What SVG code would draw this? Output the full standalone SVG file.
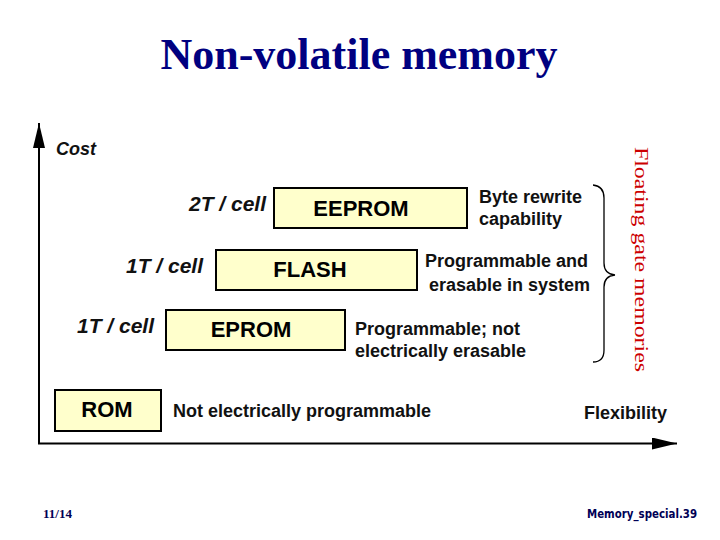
<svg xmlns="http://www.w3.org/2000/svg" width="720" height="540" viewBox="0 0 720 540">
<style>
.title{font-family:"Liberation Serif","Times New Roman",serif;font-weight:bold;font-size:44px;fill:#000080}
.box{fill:#FFFFCC;stroke:#000;stroke-width:2}
.lbl{font-family:"Liberation Sans",Arial,sans-serif;font-weight:bold;font-size:22px;fill:#000;text-anchor:middle}
.desc{font-family:"Liberation Sans",Arial,sans-serif;font-weight:bold;font-size:18px;fill:#111}
.cell{font-family:"Liberation Sans",Arial,sans-serif;font-weight:bold;font-style:italic;font-size:21px;fill:#111;text-anchor:end}
.axis{stroke:#000;stroke-width:2;fill:none}
.foot{font-weight:bold;fill:#000055}
</style>
<defs>
<marker id="arr" viewBox="0 0 25 12" refX="25" refY="6" markerWidth="25" markerHeight="12" markerUnits="userSpaceOnUse" orient="auto">
<path d="M0,0 L25,6 L0,12 Z" fill="#000"/>
</marker>
</defs>
<rect width="720" height="540" fill="#fff"/>
<text class="title" x="359" y="69" text-anchor="middle">Non-volatile memory</text>

<g id="connectors">
<line class="axis" x1="39" y1="444" x2="39" y2="123" marker-end="url(#arr)"/>
<line class="axis" x1="38" y1="443.5" x2="677" y2="443.5" marker-end="url(#arr)"/>
<path id="brace" d="M593,185 Q604,186 604,198 L604,263 Q604,274 615,275 Q604,276 604,287 L604,350 Q604,362 593,362" fill="none" stroke="#000" stroke-width="1.3"/>
</g>

<g id="axis-labels">
<text x="56" y="155" font-family="Liberation Sans,Arial,sans-serif" font-weight="bold" font-style="italic" font-size="18" fill="#111">Cost</text>
<text class="desc" x="584" y="419">Flexibility</text>
</g>

<g id="eeprom">
<rect class="box" x="274" y="188" width="193" height="40"/>
<text class="lbl" x="361" y="216">EEPROM</text>
<text class="cell" x="266" y="211">2T / cell</text>
<text class="desc" x="479" y="203">Byte rewrite</text>
<text class="desc" x="479" y="225">capability</text>
</g>

<g id="flash">
<rect class="box" x="216" y="250" width="201" height="40"/>
<text class="lbl" x="310" y="277">FLASH</text>
<text class="cell" x="203" y="273">1T / cell</text>
<text class="desc" x="425" y="267">Programmable and</text>
<text class="desc" x="429" y="291">erasable in system</text>
</g>

<g id="eprom">
<rect class="box" x="166" y="310" width="179" height="40"/>
<text class="lbl" x="251" y="337">EPROM</text>
<text class="cell" x="154" y="333">1T / cell</text>
<text class="desc" x="355" y="335">Programmable; not</text>
<text class="desc" x="355" y="357">electrically erasable</text>
</g>

<g id="rom">
<rect class="box" x="55" y="390" width="106" height="41"/>
<text class="lbl" x="107" y="417">ROM</text>
<text class="desc" x="173" y="417">Not electrically programmable</text>
</g>

<g id="floating-gate">
<text transform="translate(635,147) rotate(90)" x="0" y="0" font-family="Liberation Serif,'Times New Roman',serif" font-size="19" fill="#cc0000" textLength="225" lengthAdjust="spacingAndGlyphs">Floating gate memories</text>
</g>

<g id="footer">
<text class="foot" x="43" y="518" font-family="Liberation Serif,'Times New Roman',serif" font-size="13">11/14</text>
<text class="foot" x="697" y="518" text-anchor="end" font-family="DejaVu Sans Condensed,'Liberation Sans',sans-serif" font-size="12" textLength="110" lengthAdjust="spacingAndGlyphs">Memory_special.39</text>
</g>
</svg>
